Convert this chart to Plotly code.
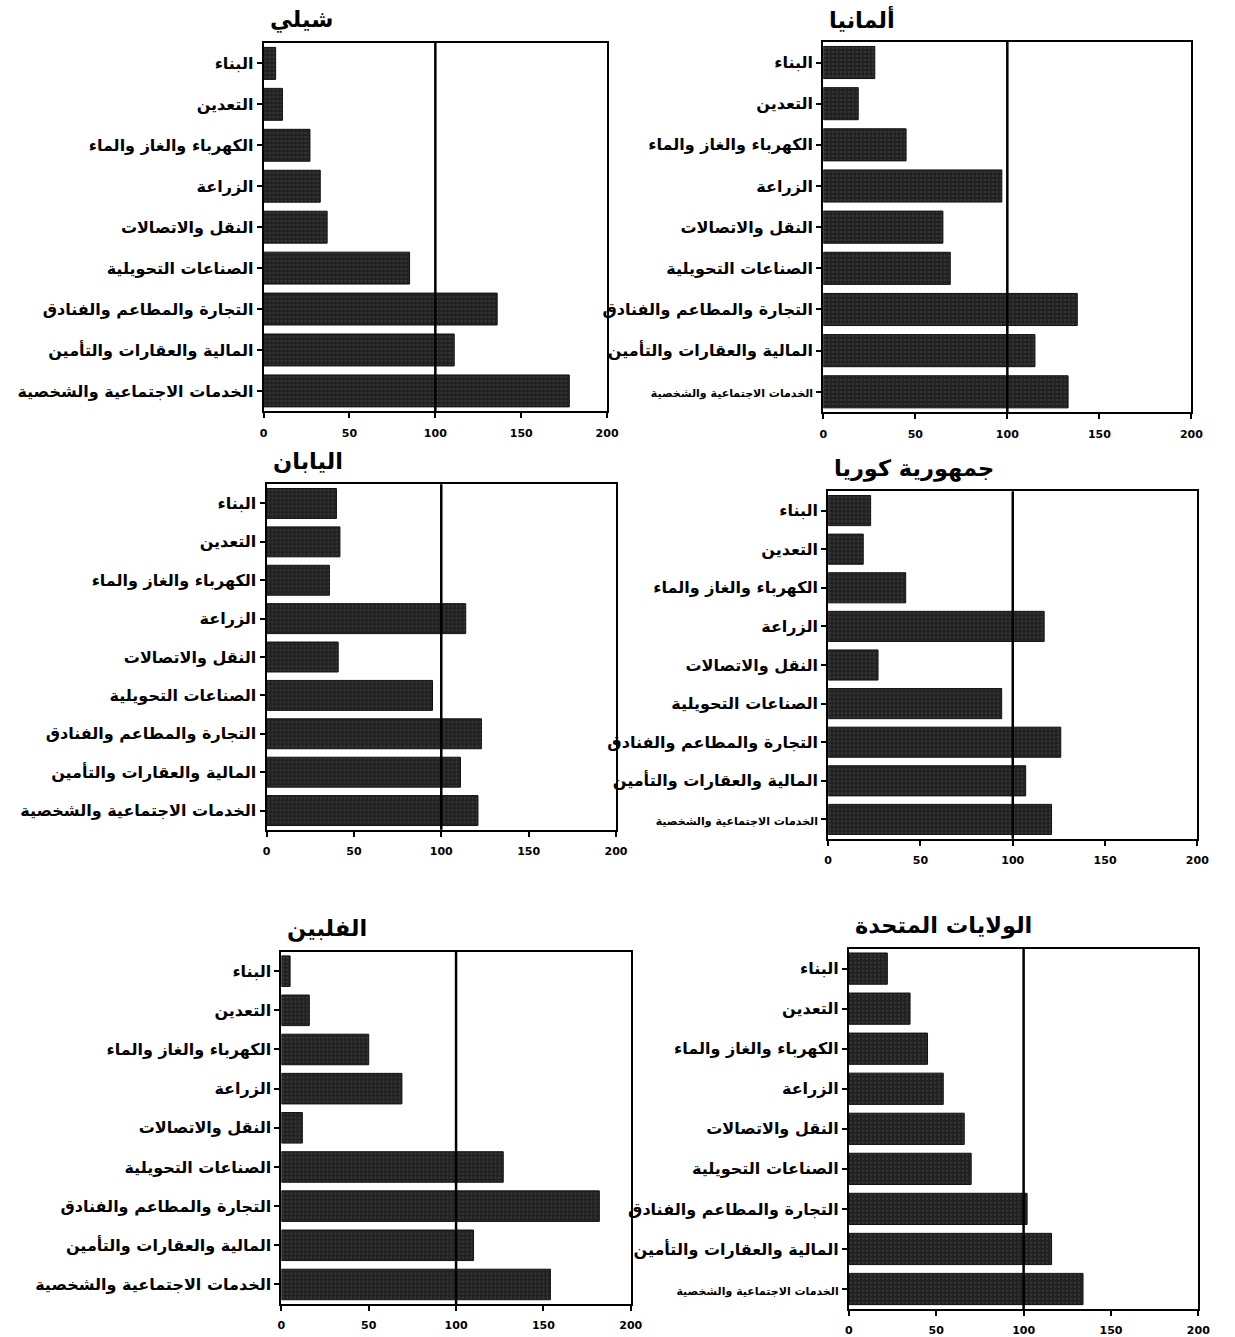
import plotly.graph_objects as go

categories = [
    "البناء",
    "التعدين",
    "الكهرباء والغاز والماء",
    "الزراعة",
    "النقل والاتصالات",
    "الصناعات التحويلية",
    "التجارة والمطاعم والفنادق",
    "المالية والعقارات والتأمين",
    "الخدمات الاجتماعية والشخصية",
]

chile = [7, 11, 27, 33, 37, 85, 136, 111, 178]
germany = [28, 19, 45, 97, 65, 69, 138, 115, 133]
japan = [40, 42, 36, 114, 41, 95, 123, 111, 121]
korea = [23, 19, 42, 117, 27, 94, 126, 107, 121]
philippines = [5, 16, 50, 69, 12, 127, 182, 110, 154]
usa = [22, 35, 45, 54, 66, 70, 102, 116, 134]

x_ticks = [0, 50, 100, 150, 200]
reference_value = 100

panels = [
    # name, values, small last label, box px (left, right, top, bottom)
    ("شيلي", chile, False, (263, 611, 43, 412)),
    ("ألمانيا", germany, True, (830, 1203, 42, 413)),
    ("اليابان", japan, False, (266, 620, 485, 831)),
    ("جمهورية كوريا", korea, True, (835, 1209, 492, 840)),
    ("الفلبين", philippines, False, (281, 635, 953, 1306)),
    ("الولايات المتحدة", usa, True, (856, 1210, 950, 1311)),
]

W, H = 1235, 1337
FONT = "DejaVu Sans"

fig = go.Figure()
for i, (name, vals, small_last, (l, r, t, b)) in enumerate(panels, start=1):
    xa = "x" if i == 1 else f"x{i}"
    ya = "y" if i == 1 else f"y{i}"
    fig.add_trace(go.Bar(
        x=vals, y=categories, orientation="h",
        xaxis=xa, yaxis=ya,
        marker=dict(
            color="#222222",
            line=dict(color="#111111", width=1),
            pattern=dict(shape=".", fgcolor="#8c8c8c", size=4, solidity=0.12),
        ),
        showlegend=False,
    ))
    ticktext = []
    for j, c in enumerate(categories):
        if small_last and j == len(categories) - 1:
            ticktext.append(f'<span style="font-size:11px">{c}</span>')
        else:
            ticktext.append(c)
    xkey = "xaxis" if i == 1 else f"xaxis{i}"
    ykey = "yaxis" if i == 1 else f"yaxis{i}"
    fig.update_layout(**{
        xkey: dict(
            domain=[l / W, r / W], anchor=ya, range=[0, 200],
            tickvals=x_ticks, ticktext=[str(v) for v in x_ticks],
            ticks="outside", ticklen=5, tickwidth=1.5, tickcolor="black",
            ticklabelstandoff=5,
            showline=True, linecolor="black", linewidth=2, mirror=True,
            showgrid=False, zeroline=False, fixedrange=True,
            tickfont=dict(family=FONT, size=11, color="black", weight="bold"),
        ),
        ykey: dict(
            domain=[1 - b / H, 1 - t / H], anchor=xa,
            categoryorder="array", categoryarray=categories,
            autorange="reversed",
            tickvals=categories, ticktext=ticktext,
            ticks="outside", ticklen=5, tickwidth=1.5, tickcolor="black",
            showline=True, linecolor="black", linewidth=2, mirror=True,
            showgrid=False, zeroline=False, fixedrange=True,
            tickfont=dict(family=FONT, size=16, color="black", weight="bold"),
        ),
    })
    fig.add_shape(type="line", xref=xa, yref=f"{ya} domain",
                  x0=reference_value, x1=reference_value, y0=0, y1=1,
                  line=dict(color="black", width=2.5))
    fig.add_annotation(text=name, xref="paper", yref="paper",
                       x=(l + 4) / W, y=1 - (t - 23) / H,
                       xanchor="left", yanchor="middle", showarrow=False,
                       font=dict(family=FONT, size=22.5, color="black", weight="bold"))

fig.update_layout(
    width=W, height=H,
    autosize=False,
    margin=dict(l=0, r=0, t=0, b=0),
    paper_bgcolor="white", plot_bgcolor="white",
    bargap=0.22,
)

fig.write_html(
    "out.html",
    config={"displayModeBar": False, "responsive": False},
    post_script="document.body.style.margin='0';document.body.style.overflow='hidden';",
)
